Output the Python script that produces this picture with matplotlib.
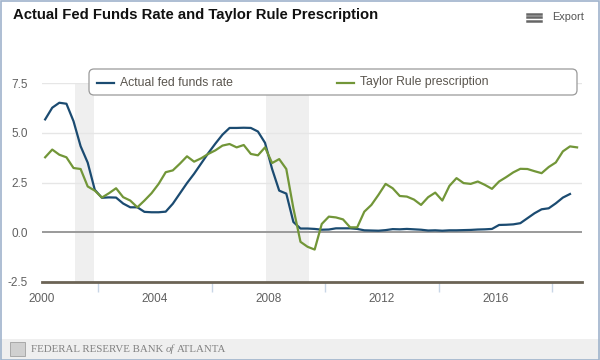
import matplotlib
matplotlib.use('Agg')
import matplotlib.pyplot as plt
from matplotlib.patches import FancyBboxPatch, Rectangle
from matplotlib.lines import Line2D
import numpy as np

plt.rcParams['font.family'] = ['Liberation Sans', 'DejaVu Sans']
plt.rcParams['axes.unicode_minus'] = False

# quarterly data, 2000Q1 onward (plotted at mid-quarter)
fed_funds = [
    5.68, 6.27, 6.52, 6.47,  # 2000
    5.59, 4.33, 3.50, 2.13,  # 2001
    1.73, 1.75, 1.74, 1.44,  # 2002
    1.25, 1.25, 1.02, 1.00,  # 2003
    1.00, 1.03, 1.43, 1.95,  # 2004
    2.47, 2.94, 3.46, 3.98,  # 2005
    4.46, 4.91, 5.25, 5.25,  # 2006
    5.26, 5.25, 5.07, 4.50,  # 2007
    3.18, 2.09, 1.94, 0.51,  # 2008
    0.18, 0.18, 0.16, 0.12,  # 2009
    0.13, 0.19, 0.19, 0.19,  # 2010
    0.16, 0.09, 0.08, 0.07,  # 2011
    0.10, 0.15, 0.14, 0.16,  # 2012
    0.14, 0.12, 0.08, 0.09,  # 2013
    0.07, 0.09, 0.09, 0.10,  # 2014
    0.11, 0.13, 0.14, 0.16,  # 2015
    0.36, 0.37, 0.39, 0.45,  # 2016
    0.70, 0.95, 1.15, 1.20,  # 2017
    1.45, 1.74, 1.92,        # 2018
]
taylor_rule = [
    3.77, 4.16, 3.90, 3.77,
    3.23, 3.18, 2.30, 2.09,
    1.74, 1.96, 2.21, 1.76,
    1.59, 1.25, 1.59, 1.96,
    2.43, 3.02, 3.11, 3.45,
    3.82, 3.55, 3.72, 3.94,
    4.12, 4.36, 4.44, 4.27,
    4.39, 3.94, 3.87, 4.27,
    3.48, 3.68, 3.18, 1.20,
    -0.49, -0.74, -0.88, 0.41,
    0.78, 0.74, 0.64, 0.24,
    0.24, 1.03, 1.37, 1.88,
    2.43, 2.21, 1.82, 1.79,
    1.64, 1.37, 1.76, 1.99,
    1.59, 2.33, 2.72, 2.47,
    2.43, 2.55, 2.38, 2.18,
    2.55, 2.77, 3.01, 3.19,
    3.18, 3.07, 2.97, 3.28,
    3.51, 4.07, 4.32, 4.27,
]
recessions = [(2001.17, 2001.83), (2007.92, 2009.42)]
year_labels = [2000, 2004, 2008, 2012, 2016]
y_ticks = [-2.5, 0.0, 2.5, 5.0, 7.5]

t_ff = 2000.125 + 0.25 * np.arange(len(fed_funds))
t_tr = 2000.125 + 0.25 * np.arange(len(taylor_rule))

BLUE = '#1b4b71'
GREEN = '#729638'

W, H = 600, 360
fig = plt.figure(figsize=(6, 3.6), dpi=100)
tr = fig.dpi_scale_trans

def px(x, y):
    # pixel (top-left origin) -> inches for dpi_scale_trans
    return x / 100, (H - y) / 100

ax = fig.add_axes([41.6 / W, 1 - 281.7 / H, (582 - 41.6) / W, (281.7 - 83.3) / H])
ax.set_xlim(2000, 2000 + (582 - 41.6) / 28.37)
ax.set_ylim(-2.5, 7.5)

for a, b in recessions:
    ax.axvspan(a, b, color='#efefef', lw=0, zorder=0)

for v in y_ticks[2:]:
    ax.axhline(v, color='#e6e6e6', lw=1, zorder=1)
ax.axhline(0, color='#9a9a9a', lw=1.4, zorder=1)

ax.plot(t_ff, fed_funds, color=BLUE, lw=1.6, zorder=3, solid_joinstyle='round')
ax.plot(t_tr, taylor_rule, color=GREEN, lw=1.6, zorder=3, solid_joinstyle='round')

for s in ['top', 'right', 'left']:
    ax.spines[s].set_visible(False)
ax.spines['bottom'].set_color('#6b6355')
ax.spines['bottom'].set_linewidth(2)
ax.spines['bottom'].set_zorder(4)

ax.set_yticks(y_ticks)
ax.set_yticklabels(['%.1f' % v for v in y_ticks])
ax.set_xticks(year_labels)
ax.set_xticklabels([str(y) for y in year_labels])
ax.set_xticks([2002, 2006, 2010, 2014, 2018], minor=True)
ax.tick_params(axis='y', length=0, pad=10, labelsize=8.5, labelcolor='#606060')
ax.tick_params(axis='x', which='major', length=0, pad=8, labelsize=8.5, labelcolor='#606060')
ax.tick_params(axis='x', which='minor', length=7, width=1, color='#c8d6e6')
ax.patch.set_visible(False)

# legend box
x0, y0 = px(89, 95)
fig.patches.append(FancyBboxPatch((x0, y0), (577 - 89) / 100, 26 / 100,
                                  boxstyle='round,pad=0,rounding_size=0.05',
                                  transform=tr, facecolor='white', edgecolor='#9a9a9a',
                                  lw=0.9, zorder=5))
for (lx, col, label) in [(97, BLUE, 'Actual fed funds rate'), (337, GREEN, 'Taylor Rule prescription')]:
    ax1, ay = px(lx, 82.5)
    ax2, _ = px(lx + 17, 82.5)
    fig.lines.append(Line2D([ax1, ax2], [ay, ay], transform=tr, color=col, lw=1.6, zorder=6))
    tx, ty = px(lx + 23, 82.5)
    fig.text(tx, ty, label, transform=tr, fontsize=8.8, color='#5a554e', va='center', ha='left', zorder=6)

# title and export
fig.text(13 / W, 1 - 15 / H, 'Actual Fed Funds Rate and Taylor Rule Prescription',
         fontsize=10.7, fontweight='bold', color='#111111', va='center', ha='left')
for yy in [13.5, 17, 20.5]:
    a1, b1 = px(527, yy)
    a2, _ = px(541, yy)
    fig.lines.append(Line2D([a1, a2], [b1, b1], transform=tr, color='#666666', lw=1.8))
fig.text(552 / W, 1 - 17 / H, 'Export', fontsize=7.9, color='#555555', va='center', ha='left')

# footer band
fig.patches.append(Rectangle((0, 0), 1, 1 - 339 / H, transform=fig.transFigure,
                             facecolor='#efefef', edgecolor='none', zorder=0))
renderer = fig.canvas.get_renderer()
cur = 31
for piece, st in [('FEDERAL RESERVE BANK', 'normal'), ('of', 'italic'), ('ATLANTA', 'normal')]:
    t = fig.text(cur / W, 1 - 349 / H, piece, fontsize=7.8, color='#808080',
                 family='Liberation Serif', style=st, va='center', ha='left')
    cur = t.get_window_extent(renderer).x1 + 2.5
# small emblem
fig.patches.append(Rectangle(px(10, 356), 0.15, 0.14, transform=tr,
                             facecolor='#d0d0d0', edgecolor='#a0a0a0', lw=0.6))

# outer border
fig.patches.append(Rectangle((0.5 / W, 0.5 / H), 1 - 1.5 / W, 1 - 1.5 / H, transform=fig.transFigure,
                             facecolor='none', edgecolor='#9fb3cc', lw=1.2, zorder=10))

fig.savefig('out.png', dpi=100)
